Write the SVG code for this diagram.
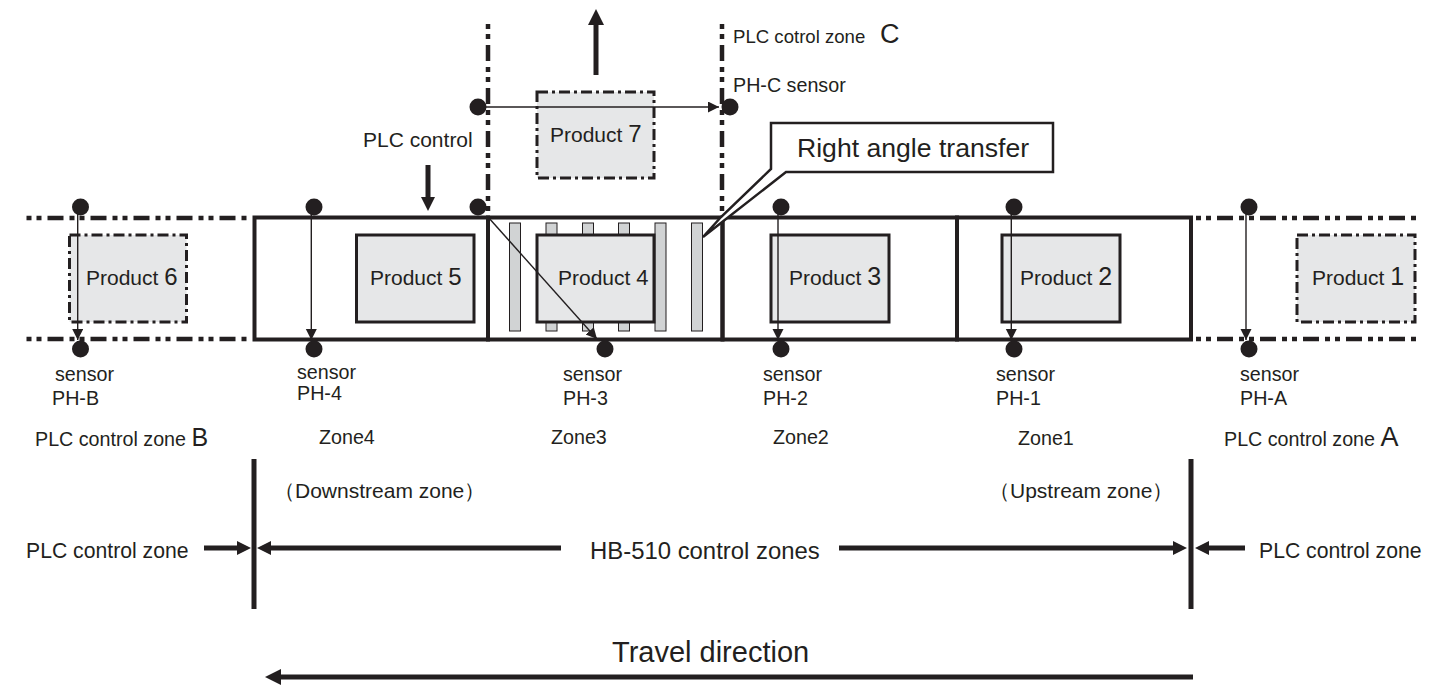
<svg xmlns="http://www.w3.org/2000/svg" width="1448" height="686" viewBox="0 0 1448 686">
<style>
text{font-family:"Liberation Sans",Arial,sans-serif;fill:#231f20}
.t{font-size:19.7px}
.p{font-size:21px}
.b{font-size:21.2px}
.prod{fill:#e6e7e8;stroke:#231f20;stroke-width:3}
.dd{stroke-dasharray:11 4 3 4}
.roll{fill:#d1d3d4;stroke:#231f20;stroke-width:1}
.box{fill:none;stroke:#231f20;stroke-width:4}
.thin{stroke:#231f20;stroke-width:1.4;fill:none;marker-end:url(#a)}
.thick{stroke:#231f20;stroke-width:5;fill:none}
.dash{stroke:#231f20;stroke-width:4.500;fill:none;stroke-dasharray:5 5 5 6 16 6}
.dot{fill:#231f20}
</style>
<defs>
<marker id="a" markerUnits="userSpaceOnUse" markerWidth="12" markerHeight="12" refX="11" refY="5.5" orient="auto"><path d="M0 0L11 5.5L0 11Z" fill="#231f20"/></marker>
<marker id="b" markerUnits="userSpaceOnUse" markerWidth="18" markerHeight="18" refX="1" refY="8" orient="auto"><path d="M0 0L16 8L0 16Z" fill="#231f20"/></marker>
<marker id="c" markerUnits="userSpaceOnUse" markerWidth="16" markerHeight="16" refX="1" refY="7" orient="auto"><path d="M0 0L14 7L0 14Z" fill="#231f20"/></marker>
</defs>
<rect width="1448" height="686" fill="#fff"/>
<g id="boundaries">
<path class="dash" d="M26.500 218H248M26.500 339H248M1196 218H1418M1196 339H1418M488 24V216M722 24V216"/>
</g>
<g id="rollers">
<rect class="roll" x="509.500" y="223" width="11" height="108"/>
<rect class="roll" x="546" y="223" width="11" height="108"/>
<rect class="roll" x="582.500" y="223" width="11" height="108"/>
<rect class="roll" x="618.500" y="223" width="11" height="108"/>
<rect class="roll" x="655" y="223" width="11" height="108"/>
<rect class="roll" x="691.500" y="223" width="11" height="108"/>
</g>
<g id="zone4"><rect class="box" x="254.500" y="217.500" width="233.500" height="122"/><text class="t" x="319" y="444">Zone4</text></g>
<g id="zone3"><rect class="box" x="488" y="217.500" width="234.500" height="122"/><text class="t" x="551" y="444">Zone3</text></g>
<g id="zone2"><rect class="box" x="722.500" y="217.500" width="234.500" height="122"/><text class="t" x="773" y="444">Zone2</text></g>
<g id="zone1"><rect class="box" x="957" y="217.500" width="234" height="122"/><text class="t" x="1018" y="445">Zone1</text></g>
<g id="product1"><rect class="prod dd" x="1297" y="235" width="118" height="87"/><text class="p" x="1312" y="285">Product <tspan font-size="25">1</tspan></text></g>
<g id="product2"><rect class="prod" x="1002" y="235" width="118" height="87"/><text class="p" x="1020" y="285">Product <tspan font-size="25">2</tspan></text></g>
<g id="product3"><rect class="prod" x="771" y="235" width="118" height="87"/><text class="p" x="789" y="285">Product <tspan font-size="25">3</tspan></text></g>
<g id="product4"><rect class="prod" x="537" y="235" width="117" height="87"/><text class="p" x="558" y="285">Product <tspan font-size="22">4</tspan></text></g>
<g id="product5"><rect class="prod" x="356.500" y="235" width="117.500" height="87"/><text class="p" x="370" y="285">Product <tspan font-size="24">5</tspan></text></g>
<g id="product6"><rect class="prod dd" x="69.500" y="235" width="117" height="87"/><text class="p" x="86" y="285">Product <tspan font-size="24">6</tspan></text></g>
<g id="product7"><rect class="prod dd" x="537" y="92" width="117" height="86"/><text class="p" x="550" y="142">Product <tspan font-size="24">7</tspan></text></g>
<g id="callout"><path d="M771 123H1053V172H786L703 237L721 217L771 169Z" fill="#fff" stroke="#231f20" stroke-width="2.500"/><text x="797" y="157" font-size="26.600">Right angle transfer</text></g>
<g id="connectors">
<path class="thin" d="M484 107H719"/>
<path class="thin" d="M488 217L597 339"/>
<path class="thin" d="M77.700 212V340"/>
<path class="thin" d="M311.300 212V340"/>
<path class="thin" d="M778 212V340"/>
<path class="thin" d="M1011.300 212V340"/>
<path class="thin" d="M1246 212V340"/>
<path class="thick" d="M596 75V24" marker-end="url(#b)"/>
<path class="thick" d="M428 165V198" marker-end="url(#c)"/>
<path class="thick" d="M204 548H238" marker-end="url(#c)"/>
<path class="thick" d="M561 548H270" marker-end="url(#c)"/>
<path class="thick" d="M839 548H1174" marker-end="url(#c)"/>
<path class="thick" d="M1245 548H1208" marker-end="url(#c)"/>
<path class="thick" d="M1193 677H280" marker-end="url(#b)"/>
<path class="thick" d="M254 459V609M1191 459V609"/>
</g>
<g id="sensors">
<circle class="dot" cx="80.500" cy="207" r="8.500"/><circle class="dot" cx="80.500" cy="349" r="8.500"/>
<circle class="dot" cx="314" cy="207" r="8.500"/><circle class="dot" cx="314" cy="349" r="8.500"/>
<circle class="dot" cx="478" cy="207" r="8.500"/><circle class="dot" cx="605" cy="349" r="8.500"/>
<circle class="dot" cx="478" cy="107" r="8.500"/><circle class="dot" cx="730" cy="107" r="8.500"/>
<circle class="dot" cx="781" cy="207" r="8.500"/><circle class="dot" cx="781" cy="349" r="8.500"/>
<circle class="dot" cx="1014" cy="207" r="8.500"/><circle class="dot" cx="1014" cy="349" r="8.500"/>
<circle class="dot" cx="1249" cy="207" r="8.500"/><circle class="dot" cx="1249" cy="349" r="8.500"/>
</g>
<g id="labels">
<text class="t" x="55" y="381">sensor</text><text class="t" x="52" y="405">PH-B</text>
<text class="t" x="297" y="379">sensor</text><text class="t" x="297" y="400">PH-4</text>
<text class="t" x="563" y="381">sensor</text><text class="t" x="563" y="405">PH-3</text>
<text class="t" x="763" y="381">sensor</text><text class="t" x="763" y="405">PH-2</text>
<text class="t" x="996" y="381">sensor</text><text class="t" x="996" y="405">PH-1</text>
<text class="t" x="1240" y="381">sensor</text><text class="t" x="1240" y="405">PH-A</text>
<text class="t" x="35" y="446">PLC control zone <tspan font-size="25">B</tspan></text>
<text class="t" x="1224" y="446">PLC control zone <tspan font-size="27">A</tspan></text>
<text x="733" y="43" font-size="18.600">PLC cotrol zone <tspan x="880" font-size="27">C</tspan></text>
<text class="t" x="733" y="92">PH-C sensor</text>
<text class="p" x="363" y="147">PLC control</text>
<text class="p" x="274" y="498" font-family="'Liberation Sans','Noto Sans CJK JP',sans-serif">（Downstream zone）</text>
<text class="p" x="989" y="498" font-family="'Liberation Sans','Noto Sans CJK JP',sans-serif">（Upstream zone）</text>
<text class="b" x="26" y="558">PLC control zone</text>
<text class="b" x="1259" y="558">PLC control zone</text>
<text x="590" y="558.500" font-size="23.900">HB-510 control zones</text>
<text x="612" y="662" font-size="29">Travel direction</text>
</g>
</svg>
